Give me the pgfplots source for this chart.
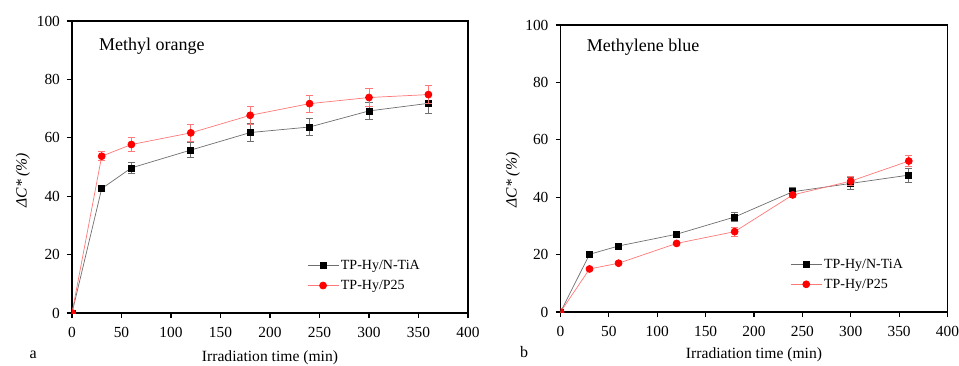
\documentclass[border=0pt]{standalone}
\usepackage{fontspec}
\setmainfont{Liberation Serif}
\usepackage{pgfplots}
\pgfplotsset{compat=1.18}
\definecolor{lred}{RGB}{255,120,120}
\definecolor{lgray}{RGB}{110,110,110}
\pgfplotsset{
  myaxis/.style={
    scale only axis,
    xmin=0, xmax=400, ymin=0, ymax=100,
    xtick={0,50,...,400}, ytick={0,20,...,100},
    tick align=outside, xtick pos=bottom, ytick pos=left,
    major tick length=2.5pt,
    axis line style={line width=0.6pt},
    every tick/.style={line width=0.6pt, black},
    tick label style={font=\fontsize{7.7}{8}\selectfont},
    /pgf/number format/assume math mode=true,
    xticklabel style={yshift=-1pt},
    clip mode=individual,
    clip marker paths=true,
    label style={font=\fontsize{7.8}{9}\selectfont},
    xlabel style={at={(axis description cs:0.5,-0.154)}, anchor=center},
    ylabel style={at={(axis description cs:-0.124,0.455)}, anchor=center, rotate=0},
    legend style={draw=none, fill=none, inner sep=0pt, font=\fontsize{7}{8}\selectfont,
      nodes={inner sep=1pt, text height=5.2pt, text depth=1.5pt}, row sep=1.2pt},
    legend cell align=left,
    legend image code/.code={
      \draw[##1] (0pt,0pt) -- (15.5pt,0pt);
      \draw[##1, only marks] plot coordinates {(7.75pt,0pt)};
    },
    blk/.style={lgray, line width=0.35pt, mark=square*, mark size=1.5pt,
      mark options={fill=black, draw=black, solid},
      error bars/.cd, y dir=both, y explicit, error bar style={lgray, line width=0.35pt},
      error mark options={rotate=90, mark size=1.8pt, lgray, line width=0.35pt}},
    rd/.style={lred, line width=0.35pt, mark=*, mark size=1.75pt,
      mark options={fill=red, draw=red, solid},
      error bars/.cd, y dir=both, y explicit, error bar style={lred, line width=0.35pt},
      error mark options={rotate=90, mark size=1.8pt, lred, line width=0.35pt}},
  }
}
\begin{document}
\begin{tikzpicture}
\path[use as bounding box] (0,0) rectangle (479.5pt,182.5pt);
\begin{axis}[myaxis, at={(36pt,26pt)}, anchor=south west, width=198pt, height=146pt,
  xlabel={Irradiation time (min)}, ylabel={\textit{ΔC* (\%)}},
  legend style={at={(axis description cs:0.593,0.128)}, anchor=west}]
\addplot+[blk] coordinates {
 (0,0) +- (0,0)
 (30,42.6) +- (0,1)
 (60,49.7) +- (0,2)
 (120,55.8) +- (0,2.5)
 (180,61.8) +- (0,3)
 (240,63.7) +- (0,3)
 (300,69.2) +- (0,3)
 (360,71.8) +- (0,3.5)
};
\addlegendentry{TP-Hy/N-TiA}
\addplot+[rd] coordinates {
 (0,0) +- (0,0)
 (30,53.7) +- (0,1.5)
 (60,57.7) +- (0,2.5)
 (120,61.7) +- (0,3)
 (180,67.7) +- (0,3)
 (240,71.7) +- (0,3)
 (300,73.8) +- (0,3)
 (360,74.8) +- (0,3)
};
\addlegendentry{TP-Hy/P25}
\node[anchor=base west, font=\fontsize{9}{10}\selectfont] at (axis description cs:0.0505,0.90) {Methyl orange};
\node[anchor=center, font=\fontsize{8}{9}\selectfont] at (axis description cs:-0.098,-0.144) {a};
\end{axis}
\begin{axis}[myaxis, at={(280.25pt,26.5pt)}, anchor=south west, width=193.5pt, height=143.5pt,
  xlabel={Irradiation time (min)}, ylabel={\textit{ΔC* (\%)}},
  xlabel style={at={(axis description cs:0.5,-0.150)}},
  ylabel style={at={(axis description cs:-0.123,0.46)}},
  legend style={at={(axis description cs:0.593,0.131)}, anchor=west}]
\addplot+[blk] coordinates {
 (0,0) +- (0,0)
 (30,20.1) +- (0,0.5)
 (60,23) +- (0,0.5)
 (120,27.1) +- (0,1)
 (180,33.1) +- (0,1.5)
 (240,41.9) +- (0,1.5)
 (300,44.8) +- (0,2)
 (360,47.7) +- (0,2.5)
};
\addlegendentry{TP-Hy/N-TiA}
\addplot+[rd] coordinates {
 (0,0) +- (0,0)
 (30,15) +- (0,0.5)
 (60,17) +- (0,0.5)
 (120,23.9) +- (0,0.5)
 (180,28) +- (0,1.5)
 (240,40.8) +- (0,1)
 (300,45.6) +- (0,1.5)
 (360,52.6) +- (0,2)
};
\addlegendentry{TP-Hy/P25}
\node[anchor=base west, font=\fontsize{9}{10}\selectfont] at (axis description cs:0.05,0.906) {Methylene blue};
\node[anchor=center, font=\fontsize{8}{9}\selectfont] at (axis description cs:-0.094,-0.139) {b};
\end{axis}
\end{tikzpicture}
\end{document}
